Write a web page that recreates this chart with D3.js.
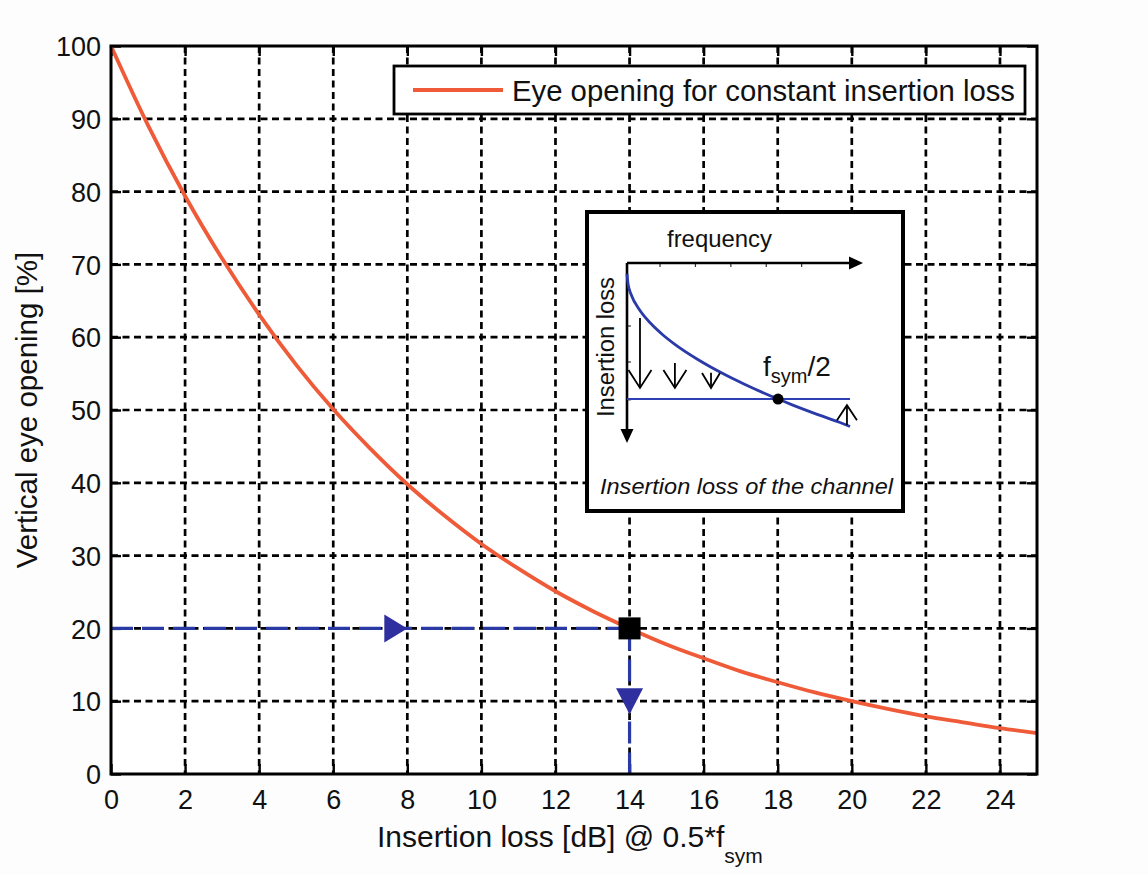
<!DOCTYPE html>
<html>
<head>
<meta charset="utf-8">
<script src="https://cdn.jsdelivr.net/npm/d3@7"></script>
<style>
  html, body { margin: 0; padding: 0; background: #fdfdfe; }
  svg { display: block; }
  text { font-family: "Liberation Sans", Arial, Helvetica, sans-serif; fill: #111; }
</style>
</head>
<body>
<svg id="chart" width="1148" height="875"></svg>
<script>
// ---------------- data ----------------
const insertionLossDb = [0,1,2,3,4,5,6,7,8,9,10,11,12,13,14,15,16,17,18,19,20,21,22,23,24,25];
const eyeOpeningPct   = [100,89.1,79.4,70.8,63.1,56.2,50.1,44.7,39.8,35.5,31.6,28.2,25.1,22.4,20,17.8,15.9,14.1,12.6,11.2,10,8.9,7.9,7.1,6.3,5.6];
const xTicks = [0,2,4,6,8,10,12,14,16,18,20,22,24];
const yTicks = [0,10,20,30,40,50,60,70,80,90,100];
const legendLabel = "Eye opening for constant insertion loss";
const xTitle = "Insertion loss [dB] @ 0.5*f";
const xTitleSub = "sym";
const yTitle = "Vertical eye opening [%]";

// example read-off: 20 % eye opening -> 14 dB
const guideH = [[0,20],[14,20]];
const guideV = [[14,20],[14,0]];
const operatingPoint = [14,20];
const arrowRight = [8,20];     // tip position
const arrowDown = [14,10];     // centre position

// inset sketch (arbitrary units 0..10 in both directions)
const insetCurveF    = [0,0.05,0.2,0.5,1,1.5,2,3,4,5,6.4,7,8,9,9.45];
const insetCurveLoss = [0.6,1.21,1.83,2.54,3.35,3.97,4.49,5.36,6.1,6.75,7.56,7.88,8.38,8.85,9.08];
const insetConstLoss = 7.56;
const insetConstF = [0,9.45];
const insetPoint = [6.40,7.56];
const insetDownArrows = [[0.55,3.06,6.94],[2.03,5.56,6.94],[3.56,6.1,6.94]]; // f, from, to
const insetUpArrow = [9.32,9.0,7.9];
const insetTicksF = [1.4,2.9,4.4,5.9,7.4];
const insetTicksL = [1.5,3.5,5.5,7.6];
const insetXLabel = "frequency";
const insetYLabel = "Insertion loss";
const insetCaption = "Insertion loss of the channel";

// ---------------- drawing ----------------
const svg = d3.select("#chart");
const W = 1148, H = 875;
const L = 111, R = 1037, T = 46, B = 774;
const x = d3.scaleLinear().domain([0,25]).range([L,R]);
const y = d3.scaleLinear().domain([0,100]).range([B,T]);

const ORANGE = "#ef5b38";
const BLUE = "#2a3aa4";
const FILLBLUE = "#2f2f9f";

svg.append("rect").attr("width",W).attr("height",H).attr("fill","#fdfdfe");
svg.append("rect").attr("x",L).attr("y",T).attr("width",R-L).attr("height",B-T).attr("fill","#ffffff");

// grid
const grid = svg.append("g");
grid.selectAll("line.vx").data(xTicks.filter(d=>d>0)).join("line")
  .attr("x1",d=>x(d)).attr("x2",d=>x(d)).attr("y1",T).attr("y2",B)
  .attr("stroke","#000").attr("stroke-width",2.7).attr("stroke-dasharray","7,4.5");
grid.selectAll("line.hy").data(yTicks.filter(d=>d>0 && d<100)).join("line")
  .attr("x1",L).attr("x2",R).attr("y1",d=>y(d)).attr("y2",d=>y(d))
  .attr("stroke","#000").attr("stroke-width",2.7).attr("stroke-dasharray","7,4.5");

// axes (ticks inside, MATLAB style)
const tk = 10;
const axB = svg.append("g").attr("transform",`translate(0,${B})`)
  .call(d3.axisBottom(x).tickValues(xTicks).tickSizeInner(-tk).tickSizeOuter(0).tickPadding(16).tickFormat(d3.format("d")));
const axT = svg.append("g").attr("transform",`translate(0,${T})`)
  .call(d3.axisTop(x).tickValues(xTicks).tickSizeInner(-tk).tickSizeOuter(0).tickFormat(""));
const axL = svg.append("g").attr("transform",`translate(${L},0)`)
  .call(d3.axisLeft(y).tickValues(yTicks).tickSizeInner(-tk).tickSizeOuter(0).tickPadding(10).tickFormat(d3.format("d")));
const axR = svg.append("g").attr("transform",`translate(${R},0)`)
  .call(d3.axisRight(y).tickValues(yTicks).tickSizeInner(-tk).tickSizeOuter(0).tickFormat(""));
[axB,axT,axL,axR].forEach(a=>{
  a.select(".domain").remove();
  a.selectAll(".tick line").attr("stroke","#000").attr("stroke-width",2.4);
  a.selectAll(".tick text").attr("font-size",27).attr("fill","#111")
    .attr("font-family",'"Liberation Sans", Arial, sans-serif');
});
axB.selectAll(".tick text").attr("dy","0.71em");
axL.selectAll(".tick text").attr("dy","0.36em");

// main curve
const line = d3.line().x(d=>x(d[0])).y(d=>y(d[1])).curve(d3.curveMonotoneX);
const curveData = insertionLossDb.map((d,i)=>[d,eyeOpeningPct[i]]);

// guide lines
const gline = d3.line().x(d=>x(d[0])).y(d=>y(d[1]));
svg.append("path").attr("d",gline(guideH)).attr("fill","none").attr("stroke",BLUE)
  .attr("stroke-width",3.2).attr("stroke-dasharray","22,9");
svg.append("path").attr("d",gline(guideV)).attr("fill","none").attr("stroke",BLUE)
  .attr("stroke-width",3.2).attr("stroke-dasharray","22,9");

svg.append("path").attr("d",line(curveData)).attr("fill","none").attr("stroke",ORANGE)
  .attr("stroke-width",3.8).attr("stroke-linejoin","round");

// guide arrowheads
{
  const tx = x(arrowRight[0]), ty = y(arrowRight[1]);
  svg.append("path").attr("d",`M${tx},${ty} L${tx-23},${ty-14} L${tx-23},${ty+14} Z`).attr("fill",FILLBLUE);
  const cx = x(arrowDown[0]), cy = y(arrowDown[1]);
  svg.append("path").attr("d",`M${cx-13.5},${cy-13} L${cx+13.5},${cy-13} L${cx},${cy+13} Z`).attr("fill",FILLBLUE);
}
// operating point
svg.append("rect").attr("x",x(operatingPoint[0])-11).attr("y",y(operatingPoint[1])-11)
  .attr("width",22).attr("height",22).attr("fill","#000");

// frame
svg.append("rect").attr("x",L).attr("y",T).attr("width",R-L).attr("height",B-T)
  .attr("fill","none").attr("stroke","#000").attr("stroke-width",3);

// axis titles
const xt = svg.append("text").attr("x",377).attr("y",847).attr("text-anchor","start").attr("font-size",30);
xt.append("tspan").text(xTitle);
xt.append("tspan").attr("font-size",21).attr("dy",16).text(xTitleSub);

svg.append("text").attr("transform",`translate(37,410) rotate(-90)`).attr("text-anchor","middle")
  .attr("font-size",29.5).text(yTitle);

// legend
{
  const lg = svg.append("g");
  lg.append("rect").attr("x",394).attr("y",66).attr("width",631).attr("height",48)
    .attr("fill","#fff").attr("stroke","#000").attr("stroke-width",2.8);
  lg.append("line").attr("x1",413).attr("x2",503).attr("y1",90).attr("y2",90)
    .attr("stroke",ORANGE).attr("stroke-width",4);
  lg.append("text").attr("x",512).attr("y",101).attr("font-size",29.3)
    .attr("textLength",503).attr("lengthAdjust","spacingAndGlyphs").text(legendLabel);
}

// inset
{
  const g = svg.append("g");
  g.append("rect").attr("x",587).attr("y",212).attr("width",316).attr("height",299)
    .attr("fill","#fff").attr("stroke","#000").attr("stroke-width",4);
  const ix = d3.scaleLinear().domain([0,10]).range([627,863]);
  const iy = d3.scaleLinear().domain([0,10]).range([263,443]);

  // small axis ticks
  g.selectAll("line.tf").data(insetTicksF).join("line")
    .attr("x1",d=>ix(d)).attr("x2",d=>ix(d)).attr("y1",iy(0)).attr("y2",iy(0)+4)
    .attr("stroke","#333").attr("stroke-width",1.2);
  g.selectAll("line.tl").data(insetTicksL).join("line")
    .attr("x1",ix(0)).attr("x2",ix(0)+4).attr("y1",d=>iy(d)).attr("y2",d=>iy(d))
    .attr("stroke","#333").attr("stroke-width",1.2);

  // axes with filled heads
  g.append("line").attr("x1",ix(0)).attr("x2",ix(10)-10).attr("y1",iy(0)).attr("y2",iy(0))
    .attr("stroke","#000").attr("stroke-width",2.6);
  g.append("path").attr("d",`M${ix(10)},${iy(0)} L${ix(10)-14},${iy(0)-6.5} L${ix(10)-14},${iy(0)+6.5} Z`).attr("fill","#000");
  g.append("line").attr("x1",ix(0)).attr("x2",ix(0)).attr("y1",iy(0)).attr("y2",iy(10)-10)
    .attr("stroke","#000").attr("stroke-width",2.6);
  g.append("path").attr("d",`M${ix(0)},${iy(10)} L${ix(0)-6.5},${iy(10)-14} L${ix(0)+6.5},${iy(10)-14} Z`).attr("fill","#000");

  // constant-loss line and channel curve
  g.append("line").attr("x1",ix(insetConstF[0])).attr("x2",ix(insetConstF[1]))
    .attr("y1",iy(insetConstLoss)).attr("y2",iy(insetConstLoss))
    .attr("stroke","#2d3fb5").attr("stroke-width",2);
  const cl = d3.line().x(d=>ix(d[0])).y(d=>iy(d[1])).curve(d3.curveMonotoneX);
  g.append("path").attr("d",cl(insetCurveF.map((f,i)=>[f,insetCurveLoss[i]])))
    .attr("fill","none").attr("stroke","#2a3aa8").attr("stroke-width",2.8);
  g.append("circle").attr("cx",ix(insetPoint[0])).attr("cy",iy(insetPoint[1])).attr("r",5.5).attr("fill","#000");

  // open arrows
  const chevDown = (cx,cy,hw,h)=>`M${cx-hw},${cy-h} L${cx},${cy} L${cx+hw},${cy-h}`;
  insetDownArrows.forEach(([f,a,b],i)=>{
    const hw = i===2 ? 9 : 11.5, h = i===2 ? 15 : 18;
    g.append("line").attr("x1",ix(f)).attr("x2",ix(f)).attr("y1",iy(a)).attr("y2",iy(b))
      .attr("stroke","#000").attr("stroke-width",1.8);
    g.append("path").attr("d",chevDown(ix(f),iy(b),hw,h)).attr("fill","none")
      .attr("stroke","#000").attr("stroke-width",1.8);
  });
  {
    const [f,a,b] = insetUpArrow;
    g.append("line").attr("x1",ix(f)).attr("x2",ix(f)).attr("y1",iy(a)).attr("y2",iy(b))
      .attr("stroke","#000").attr("stroke-width",1.8);
    g.append("path").attr("d",`M${ix(f)-10},${iy(b)+15} L${ix(f)},${iy(b)} L${ix(f)+10},${iy(b)+15}`)
      .attr("fill","none").attr("stroke","#000").attr("stroke-width",1.8);
  }

  // labels
  g.append("text").attr("x",667).attr("y",247).attr("font-size",24)
    .attr("textLength",105).attr("lengthAdjust","spacingAndGlyphs").text(insetXLabel);
  g.append("text").attr("transform",`translate(614,347) rotate(-90)`).attr("text-anchor","middle")
    .attr("font-size",23.5).attr("textLength",140).attr("lengthAdjust","spacingAndGlyphs").text(insetYLabel);
  const fs = g.append("text").attr("x",763).attr("y",376).attr("font-size",28);
  fs.append("tspan").text("f");
  fs.append("tspan").attr("font-size",20).attr("dy",7).text("sym");
  fs.append("tspan").attr("dy",-7).text("/2");
  g.append("text").attr("x",600).attr("y",494).attr("font-size",22.5).attr("font-style","italic")
    .attr("fill","#1c2470").attr("textLength",293).attr("lengthAdjust","spacingAndGlyphs").text(insetCaption);
}
</script>
</body>
</html>
